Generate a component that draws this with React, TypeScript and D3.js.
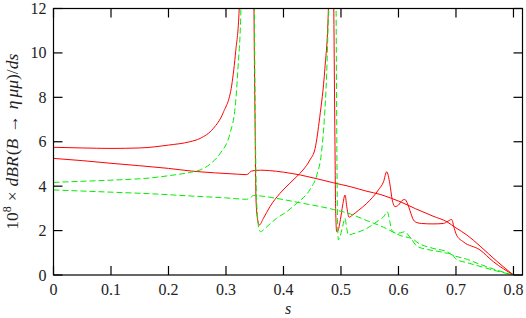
import React from 'react';
import * as d3 from 'd3';

// s values and 10^8 dBR/ds
// red solid, with the charmonium resonances
const redRes: [number, number][] = [
  [0, 5.75], [0.05, 5.72], [0.1, 5.7], [0.15, 5.72], [0.2, 5.85], [0.237, 6.0],
  [0.255, 6.15], [0.278, 6.6], [0.295, 7.3], [0.31, 8.55], [0.317, 10.1], [0.323, 12],
  [0.326, 16], [0.33, 30], [0.345, 30], [0.3478, 16], [0.3487, 12], [0.3505, 7],
  [0.3522, 3.4], [0.355, 2.5], [0.358, 2.25], [0.365, 2.55], [0.3765, 3.08], [0.394, 3.68],
  [0.411, 4.13], [0.423, 4.43], [0.434, 4.73], [0.446, 5.18], [0.455, 5.7], [0.463, 7.1],
  [0.472, 9.3], [0.478, 11.9], [0.481, 16], [0.484, 30], [0.486, 16], [0.4875, 12],
  [0.4895, 6], [0.4907, 3], [0.4925, 1.95], [0.4945, 1.98], [0.499, 2.5], [0.503, 3.15],
  [0.507, 3.6], [0.5105, 3.0], [0.514, 2.6], [0.52, 2.7], [0.53, 2.9], [0.545, 3.23],
  [0.565, 3.83], [0.574, 4.2], [0.5795, 4.65], [0.585, 4.1], [0.589, 3.4], [0.594, 3.08],
  [0.6, 3.15], [0.606, 3.35], [0.611, 3.4], [0.616, 3.2], [0.62, 2.9], [0.626, 2.48],
  [0.632, 2.36], [0.64, 2.32], [0.66, 2.3], [0.678, 2.32], [0.686, 2.42], [0.6925, 2.5],
  [0.697, 2.1], [0.701, 1.8], [0.7125, 1.5], [0.7417, 1.13], [0.765, 0.6], [0.8, 0],
];

// red solid, non-resonant
const redNonRes: [number, number][] = [
  [0, 5.25], [0.05, 5.15], [0.1, 5.03], [0.15, 4.92], [0.2, 4.8], [0.24, 4.68],
  [0.28, 4.6], [0.32, 4.54], [0.336, 4.52], [0.34, 4.58], [0.344, 4.68], [0.36, 4.72],
  [0.376, 4.7], [0.4, 4.63], [0.43, 4.5], [0.487, 4.15], [0.516, 3.98], [0.545, 3.77],
  [0.568, 3.63], [0.588, 3.45], [0.603, 3.3], [0.63, 2.98], [0.66, 2.65], [0.684, 2.4],
  [0.7, 2.12], [0.719, 1.8], [0.742, 1.3], [0.771, 0.62], [0.8, 0],
];

// green dashed, with the resonances
const greenRes: [number, number][] = [
  [0, 4.17], [0.05, 4.22], [0.1, 4.27], [0.168, 4.37], [0.2, 4.47], [0.237, 4.62],
  [0.255, 4.73], [0.275, 5.05], [0.29, 5.48], [0.307, 6.38], [0.316, 7.58], [0.321, 9.38],
  [0.326, 12], [0.329, 16], [0.334, 30], [0.346, 30], [0.3488, 16], [0.3495, 12],
  [0.351, 7], [0.3525, 4], [0.355, 2.6], [0.3575, 2.05], [0.36, 1.95], [0.366, 2.05],
  [0.371, 2.17], [0.388, 2.55], [0.4055, 2.85], [0.423, 3.23], [0.446, 3.85], [0.458, 4.5],
  [0.466, 5.5], [0.471, 7], [0.475, 9], [0.478, 11.5], [0.4795, 12.5], [0.482, 20],
  [0.485, 30], [0.489, 20], [0.4915, 12], [0.493, 5], [0.494, 2.5], [0.4955, 1.58],
  [0.498, 1.7], [0.503, 2.2], [0.507, 2.55], [0.51, 2.1], [0.513, 1.8], [0.52, 1.85],
  [0.545, 2.1], [0.565, 2.45], [0.575, 2.65], [0.5805, 2.85], [0.585, 2.4], [0.588, 2.03],
  [0.597, 1.88], [0.604, 1.9], [0.611, 1.95], [0.617, 1.8], [0.623, 1.6], [0.632, 1.3],
  [0.65, 1.15], [0.672, 1.05], [0.686, 0.98], [0.6925, 0.98], [0.697, 0.8], [0.701, 0.7],
  [0.72, 0.55], [0.747, 0.35], [0.771, 0.18], [0.8, 0],
];

// green dashed, non-resonant
const greenNonRes: [number, number][] = [
  [0, 3.83], [0.05, 3.78], [0.1, 3.73], [0.168, 3.66], [0.237, 3.56], [0.3, 3.47],
  [0.336, 3.41], [0.342, 3.47], [0.348, 3.58], [0.36, 3.56], [0.388, 3.45], [0.429, 3.25],
  [0.487, 2.95], [0.516, 2.75], [0.545, 2.45], [0.574, 2.15], [0.603, 1.78], [0.626, 1.6],
  [0.632, 1.48], [0.66, 1.2], [0.684, 1.05], [0.69, 0.95], [0.72, 0.7], [0.742, 0.48],
  [0.771, 0.22], [0.8, 0],
];

const xTicks = [0, 0.1, 0.2, 0.3, 0.4, 0.5, 0.6, 0.7, 0.8];
const yTicks = [0, 2, 4, 6, 8, 10, 12];

const W = 526;
const H = 318;
const left = 53.5;
const right = 522.5;
const top = 8.5;
const bottom = 275;
const tick = 9;
const serif = {
  fontFamily:
    "'Liberation Serif', 'Times New Roman', Tinos, 'Noto Serif', 'DejaVu Serif', Times, serif",
};

export default function App() {
  const x = d3.scaleLinear().domain([0, 0.8157]).range([left, right]);
  const y = d3.scaleLinear().domain([0, 12]).range([bottom, top]);
  const line = d3
    .line<[number, number]>()
    .x((d) => x(d[0]))
    .y((d) => y(d[1]))
    .curve(d3.curveMonotoneX);

  const fmtX = (v: number) => (v === 0 ? '0' : d3.format('.1f')(v));

  return (
    <svg
      width={W}
      height={H}
      style={{ position: 'absolute', left: 0, top: 0, background: '#fff' }}
    >
      <defs>
        <clipPath id="plot">
          <rect x={left} y={top} width={right - left} height={bottom - top} />
        </clipPath>
      </defs>

      <g clipPath="url(#plot)" fill="none" strokeWidth={1}>
        <path d={line(redRes) || ''} stroke="#ff0000" />
        <path d={line(redNonRes) || ''} stroke="#ff0000" />
        <path d={line(greenRes) || ''} stroke="#00ee00" strokeDasharray="6,3" />
        <path d={line(greenNonRes) || ''} stroke="#00ee00" strokeDasharray="6,3" />
      </g>

      {/* ticks, mirrored inside on all sides */}
      <g stroke="#000" strokeWidth={1.2}>
        {xTicks.map((t) => (
          <g key={'x' + t}>
            <line x1={x(t)} x2={x(t)} y1={bottom} y2={bottom - tick} />
            <line x1={x(t)} x2={x(t)} y1={top} y2={top + tick} />
          </g>
        ))}
        {yTicks.map((t) => (
          <g key={'y' + t}>
            <line x1={left} x2={left + tick} y1={y(t)} y2={y(t)} />
            <line x1={right} x2={right - tick} y1={y(t)} y2={y(t)} />
          </g>
        ))}
      </g>
      <rect
        x={left}
        y={top}
        width={right - left}
        height={bottom - top}
        fill="none"
        stroke="#000"
        strokeWidth={1.2}
      />

      <g fontSize={16} fill="#222" style={serif}>
        {xTicks.map((t) => (
          <text key={'xl' + t} x={x(t)} y={295} textAnchor="middle" style={serif}>
            {fmtX(t)}
          </text>
        ))}
        {yTicks.map((t) => (
          <text key={'yl' + t} x={left - 7} y={y(t) + 5.5} textAnchor="end" style={serif}>
            {t}
          </text>
        ))}
        <text x={(left + right) / 2} y={314} textAnchor="middle" fontStyle="italic" style={serif}>
          s
        </text>
        <text
          transform={`translate(18, ${(top + bottom) / 2}) rotate(-90)`}
          textAnchor="middle"
          fontSize={17.5}
          style={serif}
        >
          <tspan>10</tspan>
          <tspan fontSize={12} dy={-7}>8</tspan>
          <tspan dy={7} dx={5}>×</tspan>
          <tspan dx={5} fontStyle="italic">dBR</tspan>
          <tspan dx={1}>(</tspan>
          <tspan fontStyle="italic">B</tspan>
          <tspan dx={6}>→</tspan>
          <tspan dx={6} fontStyle="italic">η</tspan>
          <tspan dx={3} fontStyle="italic">μμ</tspan>
          <tspan>)/</tspan>
          <tspan fontStyle="italic">ds</tspan>
        </text>
      </g>
    </svg>
  );
}
